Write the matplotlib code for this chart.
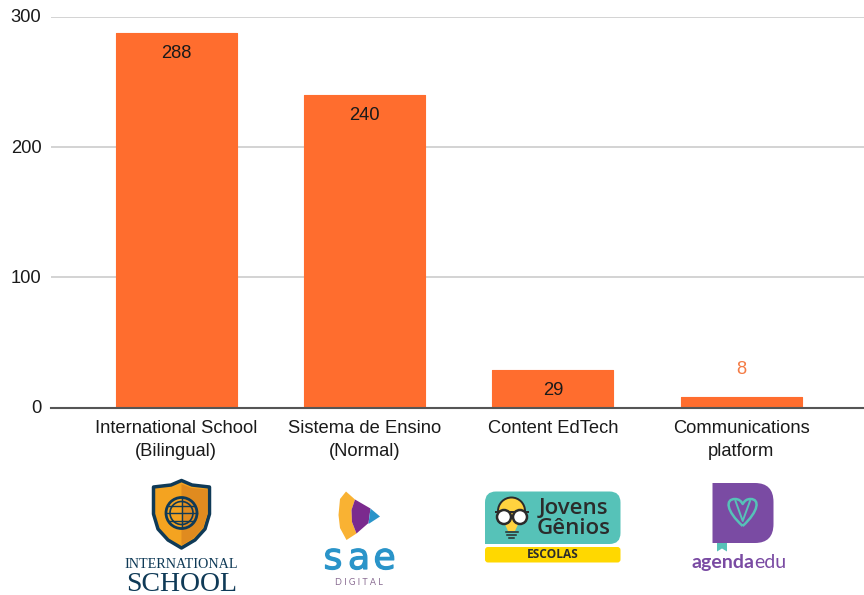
import matplotlib

matplotlib.use("Agg")
import matplotlib.patheffects as pe
import matplotlib.pyplot as plt
import numpy as np
from matplotlib.patches import Circle, FancyBboxPatch, PathPatch, Polygon, Rectangle
from matplotlib.path import Path
from matplotlib.transforms import ScaledTranslation

plt.rcParams["font.family"] = ["Liberation Sans", "DejaVu Sans"]

categories = ["International School\n(Bilingual)", "Sistema de Ensino\n(Normal)", "Content EdTech", "Communications\nplatform"]
students = [288, 240, 29, 8]
y_ticks = [0, 100, 200, 300]

ORANGE = "#FF6D2E"
NAVY = "#0F3A57"
SAE_BLUE = "#2A94C9"
TEAL = "#56C2B8"
PURPLE = "#7A4BA3"
DARK = "#2b2b2b"

W, H = 864, 595
fig = plt.figure(figsize=(W / 100, H / 100), dpi=100)

# chart area, in figure fractions
left, right = 51 / W, 1.0
bottom, top = 1 - 407.5 / H, 1 - 17 / H
ax = fig.add_axes([left, bottom, right - left, top - bottom])

x = np.arange(len(students))
ax.bar(x, students, width=0.642, color=ORANGE, edgecolor=ORANGE, linewidth=0.8, joinstyle="round", zorder=3)
ax.set_xlim(-0.664, 3.652)
ax.set_ylim(0, 300)

ax.set_yticks(y_ticks)
ax.set_xticks(x, categories)
ax.tick_params(axis="both", length=0, labelsize=13.2, labelcolor="#1a1a1a")
ax.tick_params(axis="y", pad=7)
ax.tick_params(axis="x", pad=9)
for label in ax.get_xticklabels():
    label.set_linespacing(1.45)
for label in ax.get_yticklabels():
    label.set_transform(label.get_transform() + ScaledTranslation(0, 1 / 100, fig.dpi_scale_trans))
ax.grid(axis="y", color="#cccccc", linewidth=1.2, zorder=0)
ax.set_axisbelow(True)
for name in ["top", "left", "right"]:
    ax.spines[name].set_visible(False)
ax.spines["bottom"].set_color("#555555")
ax.spines["bottom"].set_linewidth(1.5)
ax.spines["bottom"].set_zorder(5)

# value labels sit inside the bar, except the short one
for xi, v in zip(x, students):
    if v > 20:
        ax.annotate(str(v), (xi, v), xytext=(0, -15), textcoords="offset points", ha="center", va="center",
                    fontsize=13.2, color="#1a1a1a", zorder=4)
    else:
        ax.annotate(str(v), (xi, v), xytext=(0, 20), textcoords="offset points", ha="center", va="center",
                    fontsize=13.2, color="#F47B45", zorder=4)

# logo strip, drawn in pixel coordinates
logo = fig.add_axes([0, 0, 1, 1], facecolor="none")
logo.set_xlim(0, W)
logo.set_ylim(H, 0)
logo.axis("off")

# International School shield
shield = [(181.5, 480.5), (192, 485), (209.5, 487), (209.5, 514), (205, 529), (195, 540), (181.5, 548),
          (168, 540), (158, 529), (153.5, 514), (153.5, 487), (171, 485)]
logo.add_patch(Polygon(shield, closed=True, fc="#F4A320", ec=NAVY, lw=2.5, joinstyle="round"))
logo.add_patch(Polygon([(181.5, 484), (191.5, 488), (207.5, 489.5), (207.5, 514), (203, 528), (193, 538.5), (181.5, 545.5)],
                       closed=True, fc="#E08B1F", ec="none"))
logo.add_patch(Circle((181.5, 513), 15.5, fc="none", ec=NAVY, lw=2))
logo.add_patch(Circle((181.5, 513), 11.5, fc="none", ec=NAVY, lw=1.2))
logo.plot([166, 197], [513, 513], color=NAVY, lw=1)
logo.plot([169, 194], [505.5, 505.5], color=NAVY, lw=1)
logo.plot([169, 194], [520.5, 520.5], color=NAVY, lw=1)
logo.plot([181.5, 181.5], [498, 528], color=NAVY, lw=1)
logo.text(181.5, 568, "INTERNATIONAL", family="Liberation Serif", fontsize=10.2, color=NAVY, ha="center", va="baseline")
logo.text(181.5, 591, "SCHOOL", family="Liberation Serif", fontsize=20, color=NAVY, ha="center", va="baseline")

# SAE play-button wedge
logo.add_patch(Polygon([(346, 491.5), (340, 499), (338.5, 515), (340, 528), (346.5, 540), (356.5, 533.5), (352, 522), (351.5, 510), (355, 499.5)],
                       closed=True, fc="#F9B233", ec="none"))
logo.add_patch(Polygon([(355, 499.5), (370.5, 508.5), (368.5, 523), (356.5, 533.5), (352, 522), (351.5, 510)],
                       closed=True, fc="#7B2A8E", ec="none"))
logo.add_patch(Polygon([(370.5, 508.5), (380, 516.5), (368.5, 524), (369.5, 516)], closed=True, fc=SAE_BLUE, ec="none"))
for letter, lx in zip("sae", [333, 359, 384.5]):
    logo.text(lx, 569, letter, family="DejaVu Sans", fontsize=26, color=SAE_BLUE, ha="center", va="baseline",
              path_effects=[pe.withStroke(linewidth=0.9, foreground=SAE_BLUE)])
logo.text(358.5, 585, "D I G I T A L", family="Lato", fontsize=6.5, color="#8A6D93", ha="center", va="baseline")

# Jovens Genios badge
logo.add_patch(FancyBboxPatch((485, 491.5), 135.5, 52.5, boxstyle="round,pad=0,rounding_size=11", fc=TEAL, ec="none"))
logo.add_patch(Rectangle((485, 530), 12, 14, fc=TEAL, ec="none"))
logo.add_patch(FancyBboxPatch((485, 547), 135.5, 15.5, boxstyle="round,pad=0,rounding_size=3", fc="#FFD800", ec="none"))
logo.text(552.7, 554.8, "ESCOLAS", family="Open Sans", weight="bold", fontsize=8.6, color=DARK, ha="center", va="center")
logo.text(573.5, 508, "Jovens", family="Open Sans", weight="semibold", fontsize=16, color=DARK, ha="center", va="center")
logo.text(573.5, 529, "Gênios", family="Open Sans", weight="semibold", fontsize=16, color=DARK, ha="center", va="center")
logo.add_patch(Circle((511.5, 511), 13.5, fc="#FFD23F", ec=DARK, lw=1.4))
logo.add_patch(Polygon([(503, 520), (520, 520), (515, 531), (508, 531)], closed=True, fc="#FFD23F", ec="none"))
logo.add_patch(Rectangle((495, 511), 34, 2, fc=DARK, ec="none"))
logo.add_patch(Circle((504, 517), 7, fc="white", ec=DARK, lw=1.8))
logo.add_patch(Circle((520, 517), 7, fc="white", ec=DARK, lw=1.8))
for ly, half in zip([532, 535, 538], [6, 4.5, 2.5]):
    logo.plot([511.5 - half, 511.5 + half], [ly, ly], color=DARK, lw=1.1)

# agenda edu book
book = Path([(712.5, 483), (755, 483), (773.5, 483), (773.5, 502), (773.5, 524), (773.5, 543), (755, 543), (712.5, 543), (712.5, 483)],
            [Path.MOVETO, Path.LINETO, Path.CURVE3, Path.CURVE3, Path.LINETO, Path.CURVE3, Path.CURVE3, Path.LINETO, Path.CLOSEPOLY])
logo.add_patch(PathPatch(book, fc=PURPLE, ec="none"))
logo.add_patch(Polygon([(717, 543), (727, 543), (727, 551.5), (722, 548.5), (717, 551.5)], closed=True, fc=TEAL, ec="none"))
heart = Path([(742.7, 526), (726, 511), (725, 499), (735, 499), (739, 499), (741, 501), (742.7, 504),
              (744.5, 501), (746.5, 499), (750.5, 499), (760, 499), (759, 511), (742.7, 526)],
             [Path.MOVETO] + [Path.CURVE4] * 12)
logo.add_patch(PathPatch(heart, fc="none", ec=TEAL, lw=1.8, joinstyle="round"))
logo.plot([735.5, 742.7, 750], [501, 521, 501], color=TEAL, lw=1.4)
logo.text(692, 568, "agenda", family="Lato", weight="bold", fontsize=14, color=PURPLE, ha="left", va="baseline")
logo.text(786.5, 568, "edu", family="Lato", fontsize=14, color=PURPLE, ha="right", va="baseline")

fig.savefig("out.png", dpi=100)
